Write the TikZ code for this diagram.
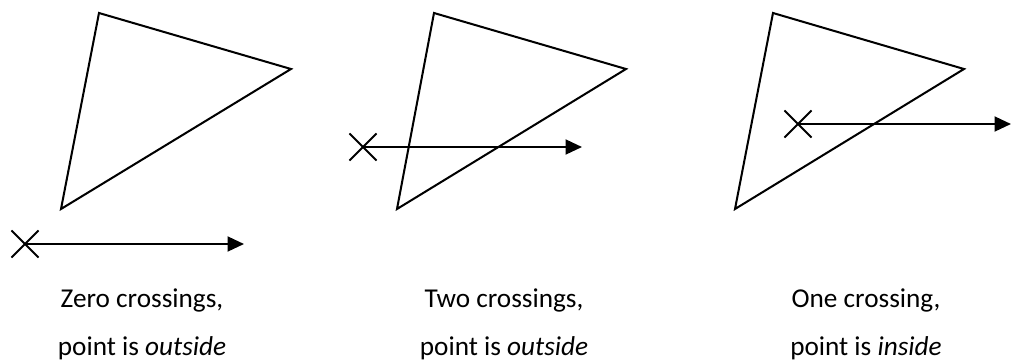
\documentclass[tikz,border=0pt]{standalone}
\usepackage{fontspec}
\setmainfont{Carlito}
\usepackage{tikz}
\usetikzlibrary{arrows.meta,shapes.misc}

\begin{document}
\begin{tikzpicture}[
    x=0.02cm, y=-0.02cm,
    line width=1.15pt,
    testpt/.style={
        draw,
        cross out,
        minimum size=0.5cm,
        inner sep=0pt
    },
    ray/.style={-{Triangle[length=0.33cm, width=0.3cm]}},
    caption/.style={
        anchor=base,
        font=\fontsize{15.5}{18}\selectfont
    }
]
\useasboundingbox (0,0) rectangle (1012,363);

% zero crossings
\coordinate (a1) at (99,13);
\coordinate (b1) at (291,69);
\coordinate (c1) at (61,209);
\draw (a1) -- (b1) -- (c1) -- cycle;
\node[testpt] (p1) at (25,244) {};
\coordinate (e1) at (244,244);
\draw[ray] (p1.center) -- (e1);
\node[caption] (l1a) at (142,307) {Zero crossings,};
\node[caption] (l1b) at (142,355) {point is \textit{outside}};

% two crossings
\coordinate (a2) at (434,13);
\coordinate (b2) at (626,69);
\coordinate (c2) at (397,209);
\draw (a2) -- (b2) -- (c2) -- cycle;
\node[testpt] (p2) at (363,147) {};
\coordinate (e2) at (582,147);
\draw[ray] (p2.center) -- (e2);
\node[caption] (l2a) at (504,307) {Two crossings,};
\node[caption] (l2b) at (504,355) {point is \textit{outside}};

% one crossing
\coordinate (a3) at (773,13);
\coordinate (b3) at (964,69);
\coordinate (c3) at (735,209);
\draw (a3) -- (b3) -- (c3) -- cycle;
\node[testpt] (p3) at (798,124) {};
\coordinate (e3) at (1011,124);
\draw[ray] (p3.center) -- (e3);
\node[caption] (l3a) at (866,307) {One crossing,};
\node[caption] (l3b) at (866,355) {point is \textit{inside}};
\end{tikzpicture}
\end{document}
